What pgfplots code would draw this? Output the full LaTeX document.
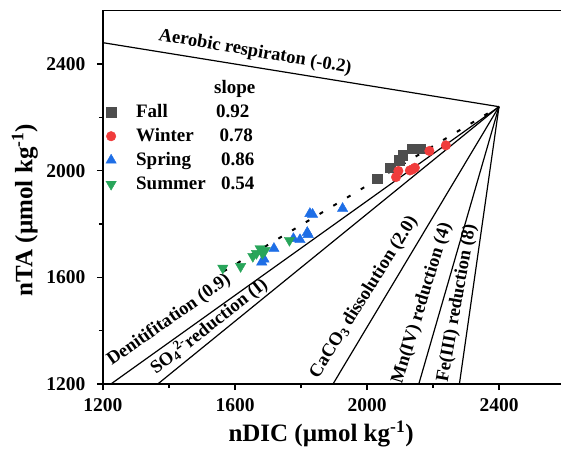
\documentclass[border=0pt]{standalone}
\usepackage{pgfplots}
\pgfplotsset{compat=1.18}
\usepackage{fontspec}
\setmainfont{Liberation Serif}
\definecolor{cfall}{RGB}{77,77,77}
\definecolor{cwin}{RGB}{240,60,60}
\definecolor{cspr}{RGB}{30,110,230}
\definecolor{csum}{RGB}{40,165,90}
\begin{document}
\begin{tikzpicture}
\begin{axis}[
  scale only axis, width=462pt, height=373.3pt,
  xmin=1200, xmax=2600, ymin=1200, ymax=2600,
  xtick={1200,1600,2000,2400}, ytick={1200,1600,2000,2400},
  minor xtick={1400,1800,2200}, minor ytick={1400,1800,2200},
  tick pos=left, tick align=outside,
  major tick length=6pt, minor tick length=4pt,
  every tick/.style={black, line width=1.2pt},
  axis line style={line width=1.5pt},
  /pgf/number format/assume math mode=true,
  /pgf/number format/1000 sep={},
  ticklabel style={font=\fontsize{19.5}{19.5}\selectfont\bfseries},
  yticklabel style={xshift=-8pt},
  xticklabel style={yshift=-5pt},
  xlabel={nDIC (µmol kg\textsuperscript{-1})},
  ylabel={nTA (µmol kg\textsuperscript{-1})},
  label style={font=\fontsize{25}{25}\selectfont\bfseries},
  xlabel style={at={(axis description cs:0.472,-0.1546)}, anchor=base},
  ylabel style={at={(axis description cs:-0.153,0.466)}, anchor=base},
  legend image code/.code={\path[draw=none, fill=none] (0pt,-3pt) rectangle (29pt,3pt); \path[#1, draw=none] plot coordinates {(7pt,0pt)};},
  legend style={at={(axis description cs:0.002,0.825)}, anchor=north west,
    draw=none, fill=none, inner sep=0pt,
    font=\fontsize{19}{19}\selectfont\bfseries,
    nodes={inner sep=3pt, text height=14pt, text depth=4pt},
    row sep=0pt},
  legend cell align=left,
]
% process lines
\addplot[black, line width=1.2pt, forget plot] coordinates {(1200,2480) (2400,2240)};
\addplot[black, line width=1.2pt, forget plot] coordinates {(1224,1200) (2400,2240)};
\addplot[black, line width=1.2pt, forget plot] coordinates {(1366,1200) (2400,2240)};
\addplot[black, line width=1.2pt, forget plot] coordinates {(1897,1200) (2400,2240)};
\addplot[black, line width=1.2pt, forget plot] coordinates {(2157,1200) (2400,2240)};
\addplot[black, line width=1.2pt, forget plot] coordinates {(2280,1200) (2400,2240)};
% regression (dotted)
\addplot[black, line width=2pt, dash pattern=on 4pt off 12pt, forget plot] coordinates {(1565,1622) (2400,2240)};

\addlegendimage{empty legend}
\addlegendentry{\hspace{78pt}slope}

\addplot[only marks, mark=square*, mark size=4.6pt, color=cfall, fill=cfall] coordinates {
(2031,1970) (2070,2011) (2097,2040) (2100,2039) (2108,2058) (2135,2083) (2162,2083)};
\addlegendentry{\makebox[80pt][l]{Fall}0.92}

\addplot[only marks, mark=*, mark size=4.8pt, color=cwin, fill=cwin] coordinates {
(2088,1976) (2095,1999) (2130,2001) (2145,2011) (2138,2005) (2189,2074) (2239,2095)};
\addlegendentry{\makebox[83.4pt][l]{Winter}0.78}

\addplot[only marks, mark=triangle*, mark size=6pt, color=cspr, fill=cspr] coordinates {
(1681,1657) (1688,1668) (1718,1708) (1777,1745) (1797,1741) (1819,1768) (1822,1760) (1827,1839) (1835,1836) (1926,1858)};
\addlegendentry{\makebox[85pt][l]{Spring}0.86}

\addplot[only marks, mark=triangle*, mark options={rotate=180}, mark size=6pt, color=csum, fill=csum] coordinates {
(1563,1635) (1617,1641) (1654,1679) (1665,1690) (1676,1708) (1691,1701) (1683,1690) (1765,1739)};
\addlegendentry{\makebox[85pt][l]{Summer}0.54}

% labels
\node[rotate=-9.7, font=\fontsize{18.5}{18.5}\selectfont\bfseries] at (axis cs:1661,2444) {Aerobic respiraton (-0.2)};
\node[rotate=35, font=\fontsize{18.5}{18.5}\selectfont\bfseries] at (axis cs:1400,1439) {Denitifitation (0.9)};
\node[rotate=38, font=\fontsize{18.5}{18.5}\selectfont\bfseries] at (axis cs:1521,1416) {SO\textsubscript{4}\textsuperscript{2-}reduction (I)};
\node[rotate=58, font=\fontsize{18.5}{18.5}\selectfont\bfseries] at (axis cs:1991,1525) {CaCO\textsubscript{3} dissolution (2.0)};
\node[rotate=73, font=\fontsize{18.5}{18.5}\selectfont\bfseries] at (axis cs:2167,1503) {Mn(IV) reduction (4)};
\node[rotate=80, font=\fontsize{18.5}{18.5}\selectfont\bfseries] at (axis cs:2273,1503) {Fe(III) reduction (8)};
\draw[line width=1.5pt] (rel axis cs:0,1) -- (rel axis cs:1,1);
\coordinate (bl) at (rel axis cs:0,0);
\end{axis}
\pgfresetboundingbox
\path ([shift={(-103pt,-65pt)}]bl) rectangle ([shift={(458pt,384pt)}]bl);
\end{tikzpicture}
\end{document}
